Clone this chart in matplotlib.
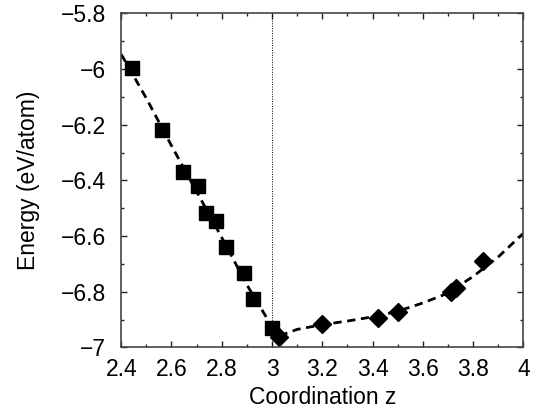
import matplotlib
matplotlib.use("Agg")
import matplotlib.pyplot as plt
from matplotlib.ticker import MultipleLocator, FixedLocator, FixedFormatter

plt.rcParams['font.family'] = ['Liberation Sans', 'DejaVu Sans']

# square markers (low coordination branch)
sq_x = [2.441, 2.562, 2.647, 2.704, 2.737, 2.777, 2.816, 2.890, 2.925, 2.999]
sq_y = [-5.995, -6.219, -6.369, -6.419, -6.518, -6.546, -6.638, -6.734, -6.827, -6.931]

# diamond markers (high coordination branch)
dm_x = [3.028, 3.200, 3.423, 3.500, 3.712, 3.732, 3.841]
dm_y = [-6.961, -6.916, -6.895, -6.874, -6.800, -6.785, -6.689]

# dashed fit curves
fitL_x = [2.40, 2.50, 2.60, 2.70, 2.80, 2.90, 3.00, 3.03]
fitL_y = [-5.947, -6.105, -6.275, -6.440, -6.605, -6.775, -6.925, -6.958]
fitR_x = [3.03, 3.10, 3.20, 3.30, 3.40, 3.50, 3.60, 3.70, 3.80, 3.90, 4.00]
fitR_y = [-6.958, -6.935, -6.918, -6.905, -6.890, -6.870, -6.840, -6.805, -6.745, -6.675, -6.590]

xticks = [2.4, 2.6, 2.8, 3.0, 3.2, 3.4, 3.6, 3.8, 4.0]
xtick_labels = ['2.4', '2.6', '2.8', '3', '3.2', '3.4', '3.6', '3.8', '4']
yticks = [-7.0, -6.8, -6.6, -6.4, -6.2, -6.0, -5.8]
ytick_labels = ['\u22127', '\u22126.8', '\u22126.6', '\u22126.4', '\u22126.2', '\u22126', '\u22125.8']

fig = plt.figure(figsize=(5.34, 4.13), dpi=100)
ax = fig.add_axes([0.227, 0.1586, 0.753, 0.809])

ax.axvline(3.0, color='black', lw=0.7, ls=(0, (1, 1.5)))
ax.plot(fitL_x, fitL_y, color='black', lw=2.0, ls=(0, (3, 2)))
ax.plot(fitR_x, fitR_y, color='black', lw=2.0, ls=(0, (3, 2)))
ax.plot(sq_x, sq_y, ls='none', marker='s', ms=10, color='black')
ax.plot(dm_x, dm_y, ls='none', marker='D', ms=9.5, color='black')

ax.set_xlim(2.4, 4.0)
ax.set_ylim(-7.0, -5.8)
ax.xaxis.set_major_locator(FixedLocator(xticks))
ax.xaxis.set_major_formatter(FixedFormatter(xtick_labels))
ax.yaxis.set_major_locator(FixedLocator(yticks))
ax.yaxis.set_major_formatter(FixedFormatter(ytick_labels))
ax.xaxis.set_minor_locator(MultipleLocator(0.1))
ax.yaxis.set_minor_locator(MultipleLocator(0.1))
ax.tick_params(which='both', direction='in', top=True, right=True, width=1, color='#222222')
ax.tick_params(which='major', length=4, labelsize=16.5)
ax.tick_params(axis='y', which='major', pad=11)
ax.tick_params(axis='x', which='major', pad=7.5)
ax.tick_params(which='minor', length=2.5)
for s in ax.spines.values():
    s.set_color('#444444')
    s.set_linewidth(1.2)

ax.set_xlabel('Coordination z', fontsize=16.5, labelpad=4)
ax.set_ylabel('Energy (eV/atom)', fontsize=16.5, labelpad=15)

fig.savefig('out.png', dpi=100)
